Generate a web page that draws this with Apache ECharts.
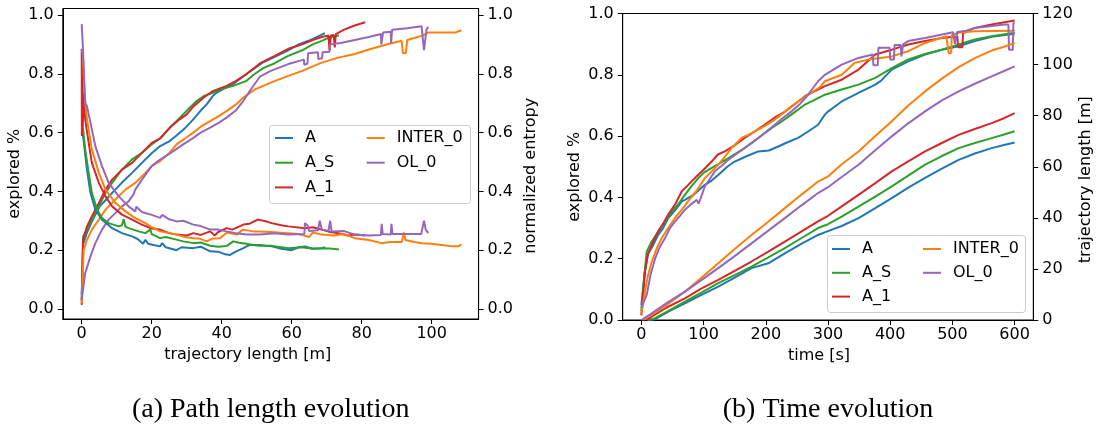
<!DOCTYPE html>
<html>
<head>
<meta charset="utf-8">
<script src="https://cdn.jsdelivr.net/npm/echarts@6.0.0/dist/echarts.min.js"></script>
<style>
  html, body { margin: 0; padding: 0; background: #fff; }
  #chart { width: 1097px; height: 426px; }
</style>
</head>
<body>
<div id="chart"></div>
<script>
const names = ["A", "A_S", "A_1", "INTER_0", "OL_0"];
const colors = ["#1f77b4", "#2ca02c", "#d62728", "#ff7f0e", "#9467bd"];

const lenTicks = [0, 20, 40, 60, 80, 100];
const fracTicks = [0, 0.2, 0.4, 0.6, 0.8, 1.0];
const timeTicks = [0, 100, 200, 300, 400, 500, 600];
const trajTicks = [0, 20, 40, 60, 80, 100, 120];

// (a) explored % vs trajectory length
const lenExpA = [[0,0.049],[0.4,0.22],[1.5,0.26],[3,0.3],[5.2,0.35],[6.8,0.37],[8.7,0.395],[11.5,0.43],[14.4,0.463],[17.2,0.497],[20,0.53],[22.4,0.554],[25,0.57],[27.1,0.59],[29.5,0.615],[31.9,0.645],[34,0.675],[35.7,0.696],[37.5,0.725],[38.6,0.736],[41,0.752],[43.3,0.765],[46,0.79],[49,0.816],[52,0.84],[55,0.857],[59,0.88],[62,0.9],[65,0.913],[69.5,0.938]];
const lenExpAS = [[0,0.03],[0.4,0.247],[1.5,0.27],[2.9,0.304],[4.9,0.349],[6.8,0.395],[8.7,0.429],[11.5,0.474],[14.4,0.509],[17.2,0.531],[20,0.56],[22.4,0.58],[25.2,0.617],[28,0.65],[30.5,0.68],[32.9,0.708],[35,0.725],[37.6,0.736],[40,0.748],[43.3,0.759],[47.1,0.776],[49.5,0.8],[52,0.82],[55,0.835],[59,0.861],[63,0.88],[66,0.9],[68.6,0.912],[71,0.925],[73.5,0.93]];
const lenExpA1 = [[0,0.014],[0.4,0.235],[1.5,0.281],[2.9,0.315],[4.9,0.361],[6.8,0.406],[8.7,0.44],[11.5,0.474],[14.4,0.497],[17.2,0.531],[20,0.565],[22.4,0.58],[25.2,0.617],[28,0.645],[30,0.662],[32,0.69],[33.8,0.708],[35.5,0.725],[37.6,0.742],[41.4,0.759],[44,0.775],[47.1,0.799],[50.9,0.835],[55,0.86],[59,0.885],[63,0.9],[66,0.915],[68.6,0.925],[70.5,0.93],[70.8,0.88],[71.2,0.93],[72,0.932],[72.3,0.89],[72.6,0.935],[75,0.95],[78,0.964],[81,0.975]];
const lenExpInter = [[0,0.02],[0.56,0.2],[1.5,0.235],[2.9,0.27],[4.9,0.304],[6.8,0.338],[9.6,0.372],[12.5,0.406],[15.3,0.429],[18.2,0.463],[20,0.486],[22.4,0.503],[25,0.53],[27.1,0.56],[29.5,0.58],[31.9,0.6],[34,0.62],[36.7,0.639],[39,0.655],[41.4,0.673],[44,0.695],[46.2,0.719],[49.5,0.747],[54,0.77],[59,0.793],[63,0.81],[66,0.825],[68.6,0.838],[73.3,0.855],[78,0.867],[82.8,0.885],[87.6,0.901],[91.4,0.912],[91.8,0.87],[92.6,0.87],[93,0.915],[97.1,0.929],[99,0.94],[103,0.94],[106.7,0.94],[108.5,0.948]];
const lenExpOL = [[0,0.031],[1,0.122],[2.5,0.179],[3.9,0.224],[5.8,0.27],[7.7,0.304],[9.6,0.326],[11.5,0.349],[13.4,0.366],[14.8,0.39],[15.3,0.406],[17.2,0.44],[20,0.486],[22,0.505],[24,0.52],[26.2,0.537],[29,0.56],[31.9,0.582],[34,0.6],[36.7,0.617],[39,0.632],[41.4,0.651],[44,0.675],[46.2,0.708],[48.5,0.75],[50.9,0.79],[54,0.81],[59,0.833],[63.5,0.848],[63.6,0.83],[64.5,0.835],[64.7,0.87],[67.5,0.873],[67.6,0.85],[68.7,0.853],[68.8,0.873],[70.8,0.875],[71,0.9],[74,0.905],[78,0.915],[82,0.925],[85.5,0.935],[85.6,0.9],[86,0.9],[86.1,0.94],[88.3,0.943],[88.4,0.905],[88.6,0.905],[88.7,0.95],[93,0.955],[97.1,0.962],[97.5,0.962],[97.8,0.88],[98.2,0.88],[98.5,0.95],[99,0.96]];

// (a) normalized entropy vs trajectory length
const lenEntA = [[0,0.6],[0.4,0.588],[1.5,0.474],[2.5,0.395],[3.9,0.338],[5.8,0.304],[8.7,0.275],[11.5,0.258],[14.4,0.247],[16,0.238],[17.5,0.222],[18.2,0.235],[19,0.222],[20.5,0.218],[22.4,0.213],[23,0.224],[24,0.21],[27.1,0.2],[28.5,0.21],[31.9,0.207],[34,0.212],[36.7,0.196],[39,0.195],[41,0.186],[42.4,0.184],[44,0.195],[46.2,0.207],[48,0.218],[50.9,0.218],[54.3,0.213],[57,0.205],[60,0.2],[62,0.21],[63.8,0.213],[66,0.205],[68.6,0.207],[69.5,0.21]];
const lenEntAS = [[0,0.63],[0.4,0.611],[1,0.543],[2,0.463],[2.9,0.395],[4.4,0.338],[5.8,0.309],[7.7,0.292],[10.6,0.281],[11.5,0.285],[12,0.305],[12.5,0.28],[13.4,0.275],[16.3,0.264],[18.2,0.258],[19.6,0.27],[20,0.255],[22.4,0.241],[24,0.245],[27.1,0.236],[29,0.23],[31.9,0.224],[34,0.226],[36.7,0.215],[39,0.212],[41.4,0.214],[43.3,0.23],[45,0.225],[47.1,0.222],[49,0.218],[50.9,0.215],[54,0.215],[59,0.207],[63,0.21],[66,0.205],[68.6,0.207],[71,0.206],[73.5,0.202]];
const lenEntA1 = [[0,0.884],[0.05,0.588],[0.1,0.85],[0.15,0.6],[0.2,0.8],[0.3,0.62],[0.56,0.736],[1,0.645],[2,0.565],[2.9,0.497],[4.9,0.429],[6.8,0.383],[8.7,0.349],[11.5,0.321],[14.4,0.304],[17.2,0.287],[19.6,0.275],[22.4,0.27],[25,0.258],[27.1,0.253],[30,0.25],[31.9,0.258],[34,0.252],[36.7,0.264],[38,0.25],[39,0.262],[41.4,0.275],[43,0.27],[46.2,0.287],[48,0.29],[50.3,0.304],[52,0.3],[54.3,0.292],[57,0.285],[59,0.281],[63.8,0.275],[66,0.278],[68.6,0.27],[71,0.262],[73.3,0.258],[76,0.25],[78,0.253],[81,0.25]];
const lenEntInter = [[0.1,0.88],[0.3,0.873],[0.8,0.736],[1.5,0.645],[2.9,0.543],[4.9,0.463],[6.8,0.406],[9.6,0.361],[12.5,0.332],[15.3,0.309],[18.2,0.292],[19.6,0.281],[22.4,0.264],[25,0.258],[27.1,0.253],[29.5,0.245],[31.9,0.241],[33.5,0.24],[35.7,0.23],[37.5,0.24],[39.5,0.241],[41.5,0.26],[44.3,0.253],[46,0.27],[49,0.264],[50.9,0.264],[54,0.262],[59,0.258],[62,0.255],[65,0.245],[66,0.26],[68.6,0.253],[72,0.25],[75,0.255],[78,0.241],[82,0.235],[85.7,0.224],[88,0.228],[91.5,0.228],[92,0.26],[92.5,0.235],[95,0.228],[97.1,0.224],[100,0.222],[102.8,0.218],[106,0.213],[107.5,0.213],[108.5,0.22]];
const lenEntOL = [[0,0.969],[0.3,0.9],[0.56,0.895],[1,0.7],[1.5,0.69],[2.5,0.634],[3.9,0.554],[5.8,0.486],[7.7,0.429],[10.6,0.383],[13.4,0.349],[15.3,0.332],[15.6,0.348],[17.2,0.33],[20,0.32],[22.4,0.31],[23,0.32],[25,0.305],[27.1,0.298],[29,0.3],[31.9,0.287],[34,0.282],[36.7,0.27],[39,0.27],[41.4,0.264],[44,0.258],[47.1,0.253],[50.9,0.253],[55,0.258],[59,0.253],[63.6,0.255],[63.8,0.292],[64.5,0.285],[65,0.265],[67.5,0.268],[68,0.3],[68.6,0.27],[70.5,0.265],[71,0.3],[71.4,0.264],[75,0.265],[78,0.253],[82,0.25],[85.5,0.252],[85.7,0.29],[86,0.255],[88.3,0.253],[88.5,0.29],[88.8,0.255],[92.4,0.255],[97,0.255],[97.8,0.3],[98.3,0.27],[99,0.258]];

// (b) explored % vs time
const timeExpA = [[0,0.049],[5,0.15],[11,0.218],[18,0.24],[27,0.278],[35,0.3],[43,0.332],[55,0.36],[65,0.387],[70,0.392],[85,0.41],[102,0.441],[113,0.455],[124,0.474],[138,0.5],[150,0.517],[170,0.535],[188,0.55],[205,0.553],[220,0.566],[235,0.58],[252,0.594],[268,0.615],[284,0.637],[295,0.67],[300,0.68],[322,0.713],[349,0.741],[376,0.768],[385,0.78],[402.5,0.817],[429,0.844],[456,0.866],[483,0.882],[510,0.893],[536,0.91],[563,0.924],[600,0.934]];
const timeExpAS = [[0,0.03],[5,0.15],[8.6,0.223],[15,0.25],[27,0.289],[38,0.32],[49,0.354],[60,0.38],[70,0.408],[80,0.435],[91.5,0.463],[100,0.48],[113,0.496],[125,0.51],[140,0.528],[166,0.561],[188,0.594],[209,0.626],[225,0.647],[241,0.67],[263,0.703],[280,0.72],[295,0.735],[322,0.752],[349,0.768],[376,0.79],[402.5,0.822],[429,0.85],[456,0.868],[483,0.882],[510,0.899],[536,0.915],[563,0.926],[600,0.937]];
const timeExpA1 = [[0,0.015],[5.9,0.158],[10,0.21],[16.6,0.245],[27,0.289],[35,0.315],[43,0.343],[55,0.38],[65,0.42],[75,0.44],[86,0.463],[100,0.49],[113,0.517],[123,0.54],[134,0.55],[150,0.57],[166,0.594],[182,0.615],[198,0.637],[214,0.66],[231,0.68],[247,0.705],[263,0.73],[280,0.748],[295,0.763],[322,0.784],[349,0.817],[376,0.866],[402.5,0.882],[429,0.899],[456,0.91],[483,0.92],[508,0.925],[509,0.89],[516,0.89],[517,0.935],[536,0.953],[563,0.964],[600,0.977]];
const timeExpInter = [[0,0.02],[5.9,0.093],[10,0.14],[16.6,0.19],[25,0.235],[32.6,0.267],[43,0.3],[54,0.332],[65,0.36],[75,0.387],[90,0.425],[102,0.463],[113,0.485],[123.6,0.507],[135,0.535],[145,0.561],[161,0.594],[175,0.607],[188,0.621],[200,0.635],[214.5,0.654],[228,0.675],[241,0.697],[257,0.72],[273,0.741],[287,0.76],[295,0.779],[322,0.8],[343,0.839],[365,0.85],[402.5,0.86],[429,0.877],[456,0.904],[490,0.926],[493,0.926],[494,0.871],[498,0.871],[499,0.93],[510,0.937],[536,0.942],[600,0.944]];
const timeExpOL = [[0,0.04],[8.6,0.082],[15,0.15],[22,0.2],[30,0.24],[38,0.267],[46,0.3],[54,0.321],[62,0.34],[70,0.36],[80,0.378],[89,0.392],[92,0.38],[95,0.395],[102,0.436],[110,0.46],[118,0.485],[130,0.505],[140,0.523],[155,0.545],[166,0.561],[177,0.577],[188,0.594],[200,0.613],[214.5,0.637],[228,0.66],[241,0.68],[255,0.705],[268,0.735],[284,0.779],[295,0.8],[322,0.833],[349,0.855],[372,0.866],[373,0.831],[380,0.831],[381,0.888],[399,0.888],[400,0.85],[406,0.85],[407,0.897],[417,0.897],[418,0.86],[420,0.86],[421,0.9],[429,0.91],[456,0.92],[501,0.939],[503,0.939],[504,0.9],[507,0.9],[508,0.94],[522,0.944],[536,0.953],[584,0.964],[590,0.964],[591,0.882],[597,0.882],[598,0.97],[600,0.97]];

// (b) trajectory length [m] vs time
const timeTrajA = [[10,0],[22,0.3],[45,3.5],[70,6.5],[95,9.6],[123.6,13.1],[150,16.6],[177,20.3],[204,22.2],[230.6,26.1],[257,29.8],[284,33.3],[300,34.8],[322,36.8],[349,39.9],[376,43.8],[402.5,47.7],[429,51.8],[456,55.6],[483,59.3],[510,62.7],[536,65.2],[563,67.3],[583,68.5],[600,69.5]];
const timeTrajAS = [[12,0],[22,0.7],[45,3.8],[70,7.2],[97,10.8],[123.6,14.4],[150,17.6],[177,20.9],[204,24.5],[230.6,28.1],[257,32],[284,36],[300,37.5],[322,40.5],[349,44.4],[376,48.3],[402.5,52.3],[429,56.5],[456,60.8],[483,64.2],[510,67.3],[536,69.3],[563,71.2],[583,72.6],[600,73.9]];
const timeTrajA1 = [[8,0],[16.6,1.3],[40,4.8],[70,8.5],[96.8,12.4],[123.6,15.7],[150,19.2],[177,22.9],[204,26.8],[230.6,30.7],[257,34.6],[284,38.6],[300,40.8],[322,44.5],[349,49],[376,53.6],[402.5,58.2],[429,62.1],[456,66],[483,69.3],[510,72.5],[536,74.8],[563,77.1],[583,79],[600,81]];
const timeTrajInter = [[3,0],[16.6,2],[40,5.8],[70,11.1],[97,16.6],[123.6,22.2],[150,27.8],[177,33.3],[204,38.5],[230.6,43.8],[257,49],[284,54.2],[300,56.2],[322,61],[349,66],[376,72],[402.5,77.8],[429,84],[456,89.5],[483,94.5],[510,99],[536,102.5],[563,105.5],[583,107],[600,108.5]];
const timeTrajOL = [[0,0],[3,0.4],[16.6,2.6],[40,6.5],[70,11.1],[97,15.7],[123.6,20.3],[150,25],[177,30],[204,35],[230.6,39.9],[257,44.8],[284,49.7],[300,52],[322,56],[349,60.8],[376,66.5],[402.5,71.9],[429,77],[456,81.7],[483,86],[510,89.5],[536,92.5],[563,95.4],[583,97.5],[600,99.3]];

const lenExp = [lenExpA, lenExpAS, lenExpA1, lenExpInter, lenExpOL];
const lenEnt = [lenEntA, lenEntAS, lenEntA1, lenEntInter, lenEntOL];
const timeExp = [timeExpA, timeExpAS, timeExpA1, timeExpInter, timeExpOL];
const timeTraj = [timeTrajA, timeTrajAS, timeTrajA1, timeTrajInter, timeTrajOL];

const font = "DejaVu Sans";
const ink = "#000";

function valueAxis(extra) {
  const ticks = extra.ticks;
  const digits = extra.digits || 0;
  return {
    type: "value",
    gridIndex: extra.gridIndex,
    position: extra.position,
    min: extra.min,
    max: extra.max,
    axisLine: { show: true, onZero: false, lineStyle: { color: ink, width: 1 } },
    axisTick: { show: true, length: 5, lineStyle: { color: ink, width: 1 }, customValues: ticks },
    axisLabel: {
      customValues: ticks,
      color: ink,
      fontFamily: font,
      fontSize: 16,
      margin: extra.margin,
      formatter: (v) => v.toFixed(digits),
    },
    splitLine: { show: false },
    name: extra.name,
    nameLocation: "middle",
    nameGap: extra.nameGap,
    nameRotate: extra.nameRotate,
    nameTextStyle: { color: ink, fontFamily: font, fontSize: 16, padding: extra.namePadding },
  };
}

const series = [];
names.forEach((n, i) => {
  series.push({ name: n, type: "line", xAxisIndex: 0, yAxisIndex: 0, data: lenExp[i] });
});
names.forEach((n, i) => {
  series.push({ name: n, type: "line", xAxisIndex: 0, yAxisIndex: 1, data: lenEnt[i] });
});
names.forEach((n, i) => {
  series.push({ name: n, type: "line", xAxisIndex: 1, yAxisIndex: 2, data: timeExp[i] });
});
names.forEach((n, i) => {
  series.push({ name: n, type: "line", xAxisIndex: 1, yAxisIndex: 3, data: timeTraj[i] });
});
series.forEach((s) => {
  const c = colors[names.indexOf(s.name)];
  s.symbol = "none";
  s.showSymbol = false;
  s.color = c;
  s.lineStyle = { color: c, width: 2 };
  s.emphasis = { disabled: true };
});

// legend icon: a short flat bar, like a matplotlib line handle
const handle = "path://M0,0h18v2h-18z";

function legendCol(left, top, data, gap) {
  return {
    orient: "vertical",
    left: left,
    top: top,
    padding: 0,
    itemGap: gap,
    itemWidth: 18,
    itemHeight: 16,
    icon: handle,
    selectedMode: false,
    z: 12,
    data: data,
    textStyle: { color: ink, fontFamily: font, fontSize: 16, lineHeight: 16, padding: [0, 0, 0, 7] },
  };
}

const option = {
  animation: false,
  backgroundColor: "#fff",
  grid: [
    { left: 62.8, right: 618.4, top: 8.5, bottom: 107, show: true, borderColor: ink, borderWidth: 1, backgroundColor: "transparent" },
    { left: 622.7, right: 63.7, top: 13.5, bottom: 106, show: true, borderColor: ink, borderWidth: 1, backgroundColor: "transparent" },
  ],
  xAxis: [
    valueAxis({ gridIndex: 0, position: "bottom", min: -5.4, max: 113.4, ticks: lenTicks, margin: 7,
      name: "trajectory length [m]", nameGap: 27, namePadding: [0, 46, 0, 0] }),
    valueAxis({ gridIndex: 1, position: "bottom", min: -30, max: 630, ticks: timeTicks, margin: 7,
      name: "time [s]", nameGap: 27, namePadding: [0, 18, 0, 0] }),
  ],
  yAxis: [
    valueAxis({ gridIndex: 0, position: "left", min: -0.034, max: 1.022, ticks: fracTicks, digits: 1, margin: 9,
      name: "explored %", nameGap: 40, nameRotate: 90, namePadding: [0, 20, 0, 0] }),
    valueAxis({ gridIndex: 0, position: "right", min: -0.034, max: 1.022, ticks: fracTicks, digits: 1, margin: 9,
      name: "normalized entropy", nameGap: 44, nameRotate: 90, namePadding: [0, 24, 0, 0] }),
    valueAxis({ gridIndex: 1, position: "left", min: 0, max: 1, ticks: fracTicks, digits: 1, margin: 9,
      name: "explored %", nameGap: 40, nameRotate: 90, namePadding: [0, 20, 0, 0] }),
    valueAxis({ gridIndex: 1, position: "right", min: 0, max: 120, ticks: trajTicks, margin: 9,
      name: "trajectory length [m]", nameGap: 45, nameRotate: 90, namePadding: [0, 26, 0, 0] }),
  ],
  legend: [
    legendCol(275, 130, ["A", "A_S", "A_1"], 8.7),
    legendCol(366.7, 130, ["INTER_0", "OL_0"], 8.7),
    legendCol(832, 241, ["A", "A_S", "A_1"], 7.8),
    legendCol(923, 241, ["INTER_0", "OL_0"], 7.8),
  ],
  graphic: [
    { type: "rect", z: 10, shape: { x: 269.5, y: 125.5, width: 201, height: 78, r: 3 },
      style: { fill: "rgba(255,255,255,0.8)", stroke: "#cccccc", lineWidth: 1 } },
    { type: "rect", z: 10, shape: { x: 827.5, y: 235.5, width: 198, height: 77, r: 3 },
      style: { fill: "rgba(255,255,255,0.8)", stroke: "#cccccc", lineWidth: 1 } },
    { type: "text", x: 270.7, y: 410, z: 10,
      style: { text: "(a) Path length evolution", fontFamily: "Liberation Serif", fontSize: 28, fill: ink, align: "center", verticalAlign: "middle" } },
    { type: "text", x: 828, y: 410, z: 10,
      style: { text: "(b) Time evolution", fontFamily: "Liberation Serif", fontSize: 28, fill: ink, align: "center", verticalAlign: "middle" } },
  ],
  series: series,
};

const chart = echarts.init(document.getElementById("chart"), null, { renderer: "canvas" });
chart.setOption(option);
</script>
</body>
</html>
